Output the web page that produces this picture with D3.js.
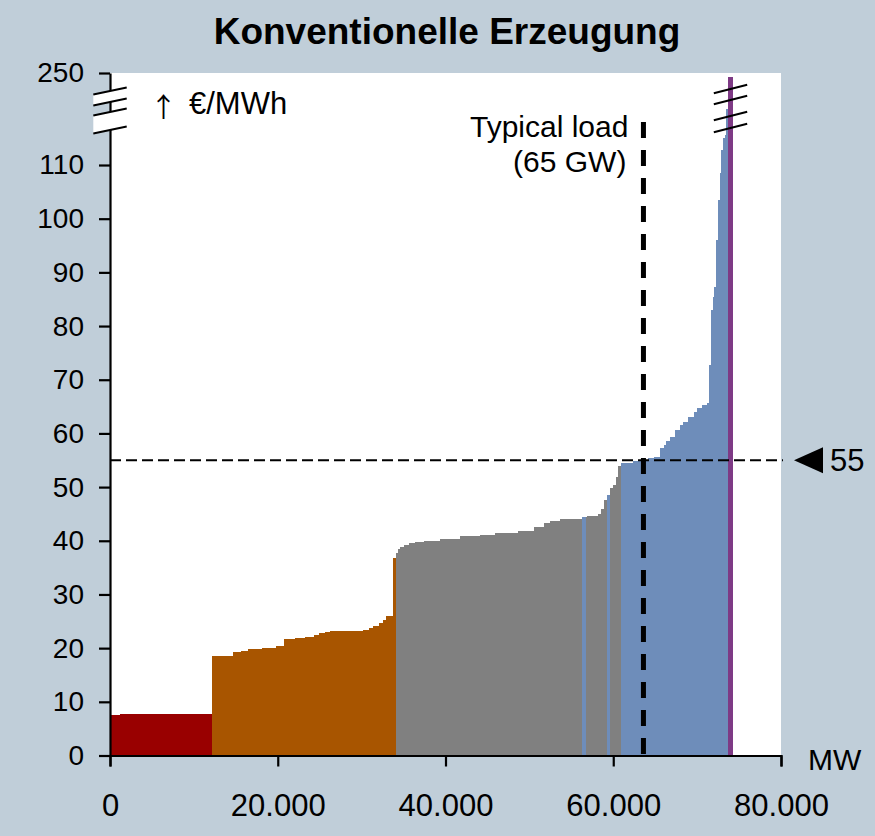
<!DOCTYPE html>
<html><head><meta charset="utf-8">
<script src="https://cdn.jsdelivr.net/npm/d3@7"></script>
<style>
html,body{margin:0;padding:0;background:#C0CED9;}
svg{display:block;font-family:"Liberation Sans",Arial,sans-serif;}
</style></head>
<body>
<svg id="chart" width="875" height="836"></svg>
<script>
// ---- data ----
const title = "Konventionelle Erzeugung";
const fuels = ["Kernenergie","Braunkohle","Steinkohle","Erdgas","Öl"];
const fuelColors = ["#990000","#A85500","#808080","#6E8DBA","#7E3A85"];
// step start (MW), price (€/MWh), fuel index
const stepMW = [0,1200,
  12130,14630,15600,16500,18100,19800,20700,22000,23300,24300,24900,25600,26200,30200,30900,31300,32100,32500,32900,33750,
  34050,34300,34600,35000,35600,36400,37400,38200,39400,41700,44100,45900,48700,50500,51700,52500,53700,
  56250,56770,56850,58240,58500,58900,59240,59600,59950,60350,60600,
  60900,62400,64200,64800,65600,66000,66300,66800,67400,68000,68370,68970,69570,69970,70570,71200,71440,71640,71880,72030,72270,72470,72670,72870,73070,73270,73430,
  73720];
const stepPrice = [7.5,7.7,
  18.5,19.3,19.5,19.8,20.0,20.4,21.7,21.8,22.1,22.4,22.8,23.0,23.1,23.4,23.7,24.1,24.6,25.2,26.0,36.7,
  37.7,38.4,38.9,39.2,39.5,39.7,39.9,40.0,40.4,40.8,41.1,41.4,41.9,42.6,43.3,43.7,44.0,
  44.4,44.5,44.6,45.0,46.0,47.6,48.5,49.8,50.4,51.9,54.0,
  54.4,54.9,55.4,55.6,57.2,57.8,58.5,59.4,60.6,61.6,62.2,63.1,64.0,64.7,65.3,65.6,72.7,83.0,85.5,87.3,96.0,103.5,108.5,112.8,115.0,115.6,170,
  240];
const stepFuel = [0,0,
  1,1,1,1,1,1,1,1,1,1,1,1,1,1,1,1,1,1,1,1,
  2,2,2,2,2,2,2,2,2,2,2,2,2,2,2,2,2,
  3,2,2,2,2,2,3,2,2,2,2,
  3,3,3,3,3,3,3,3,3,3,3,3,3,3,3,3,3,3,3,3,3,3,3,3,3,3,3,
  4];
const lastMW = 74250;
const xTicks = [0,20000,40000,60000,80000];
const yTicks = [0,10,20,30,40,50,60,70,80,90,100,110,250];
const refPrice = 55;
const typicalLoadMW = 63600;
const loadLabel = ["Typical load","(65 GW)"];
const yUnitArrow = "\u2191";
const yUnit = "\u20AC/MWh";
const xUnit = "MW";

// ---- layout ----
const svg = d3.select("#chart");
const m = {left:110, top:73, right:94, bottom:80.5};
const W = 875 - m.left - m.right, H = 836 - m.top - m.bottom;
const g = svg.append("g").attr("transform",`translate(${m.left},${m.top})`);

const x = d3.scaleLinear().domain([0,80000]).range([0,W]);
const y = d3.scaleLinear().domain([0,116,250]).range([H,59.8,0]);
const de = d3.formatLocale({decimal:",",thousands:".",grouping:[3],currency:["","€"]});
const fmt = de.format(",d");

svg.append("text").attr("x",447).attr("y",44).attr("text-anchor","middle")
  .attr("font-weight","bold").attr("font-size",37).text(title);

g.append("rect").attr("x",0).attr("y",0).attr("width",W).attr("height",H).attr("fill","#fff");

const steps = stepMW.map((s,i)=>({x0:s, x1:(i<stepMW.length-1?stepMW[i+1]:lastMW), p:stepPrice[i], f:stepFuel[i]}));
g.append("g").attr("shape-rendering","crispEdges").selectAll("rect").data(steps).join("rect")
  .attr("x",d=>x(d.x0)).attr("width",d=>x(d.x1)-x(d.x0)+0.5)
  .attr("y",d=>y(d.p)).attr("height",d=>H-y(d.p))
  .attr("fill",d=>fuelColors[d.f]);

// reference lines
g.append("line").attr("x1",0).attr("x2",W+2).attr("y1",y(refPrice)).attr("y2",y(refPrice))
  .attr("stroke","#000").attr("stroke-width",2).attr("stroke-dasharray","11,5");
g.append("line").attr("x1",x(typicalLoadMW)).attr("x2",x(typicalLoadMW)).attr("y1",49).attr("y2",H)
  .attr("stroke","#000").attr("stroke-width",5).attr("stroke-dasharray","16,12");

// axes
const xAxis = d3.axisBottom(x).tickValues(xTicks).tickFormat(fmt).tickSize(11).tickPadding(27);
const gx = g.append("g").attr("transform",`translate(0,${H})`).call(xAxis);
gx.select(".domain").attr("stroke-width",2.2);
gx.selectAll(".tick line").attr("stroke-width",2.2);
gx.selectAll("text").attr("font-size",31).attr("font-family","Liberation Sans, Arial, sans-serif").attr("fill","#000");

const yAxis = d3.axisLeft(y).tickValues(yTicks).tickSize(11).tickPadding(15).tickSizeOuter(0);
const gy = g.append("g").call(yAxis);
gy.select(".domain").attr("stroke-width",2.2);
gy.selectAll(".tick line").attr("stroke-width",2.2);
gy.selectAll("text").attr("font-size",28).attr("font-family","Liberation Sans, Arial, sans-serif").attr("fill","#000");

// axis breaks (left)
const brk = [[18,29],[39,57]];
brk.forEach(([a,b])=>{
  const dx = -16.7, dx2 = 16.7, sl = 3.4;
  g.append("polygon").attr("points",`${dx},${a+sl} ${dx2},${a-sl} ${dx2},${b-sl} ${dx},${b+sl}`).attr("fill","#fff");
  [a,b].forEach(v=>g.append("line").attr("x1",dx).attr("x2",dx2).attr("y1",v+sl).attr("y2",v-sl).attr("stroke","#000").attr("stroke-width",2));
});
// right break marks
const bx = x(73980);
[16,27,43,55].forEach(v=>g.append("line").attr("x1",bx-16.7).attr("x2",bx+16.7).attr("y1",v+4.2).attr("y2",v-4.2).attr("stroke","#000").attr("stroke-width",2));

// labels
svg.append("text").attr("x",150).attr("y",117).attr("font-family","Noto Sans CJK SC, DejaVu Sans").attr("font-size",27).text(yUnitArrow);
svg.append("text").attr("x",189).attr("y",114).attr("font-size",31).text(yUnit);
loadLabel.forEach((t,i)=>g.append("text").attr("x",x(typicalLoadMW)-15-(i*2)).attr("y",64+i*35)
  .attr("text-anchor","end").attr("font-size",30).text(t));
svg.append("text").attr("x",808).attr("y",770).attr("font-size",30).text(xUnit);
// 55 marker
const ym = m.top + y(refPrice);
svg.append("path").attr("d",`M794,${ym} L823,${ym-13} L823,${ym+13} Z`).attr("fill","#000");
svg.append("text").attr("x",830).attr("y",ym+11).attr("font-size",31).text(refPrice);
</script>
</body></html>
